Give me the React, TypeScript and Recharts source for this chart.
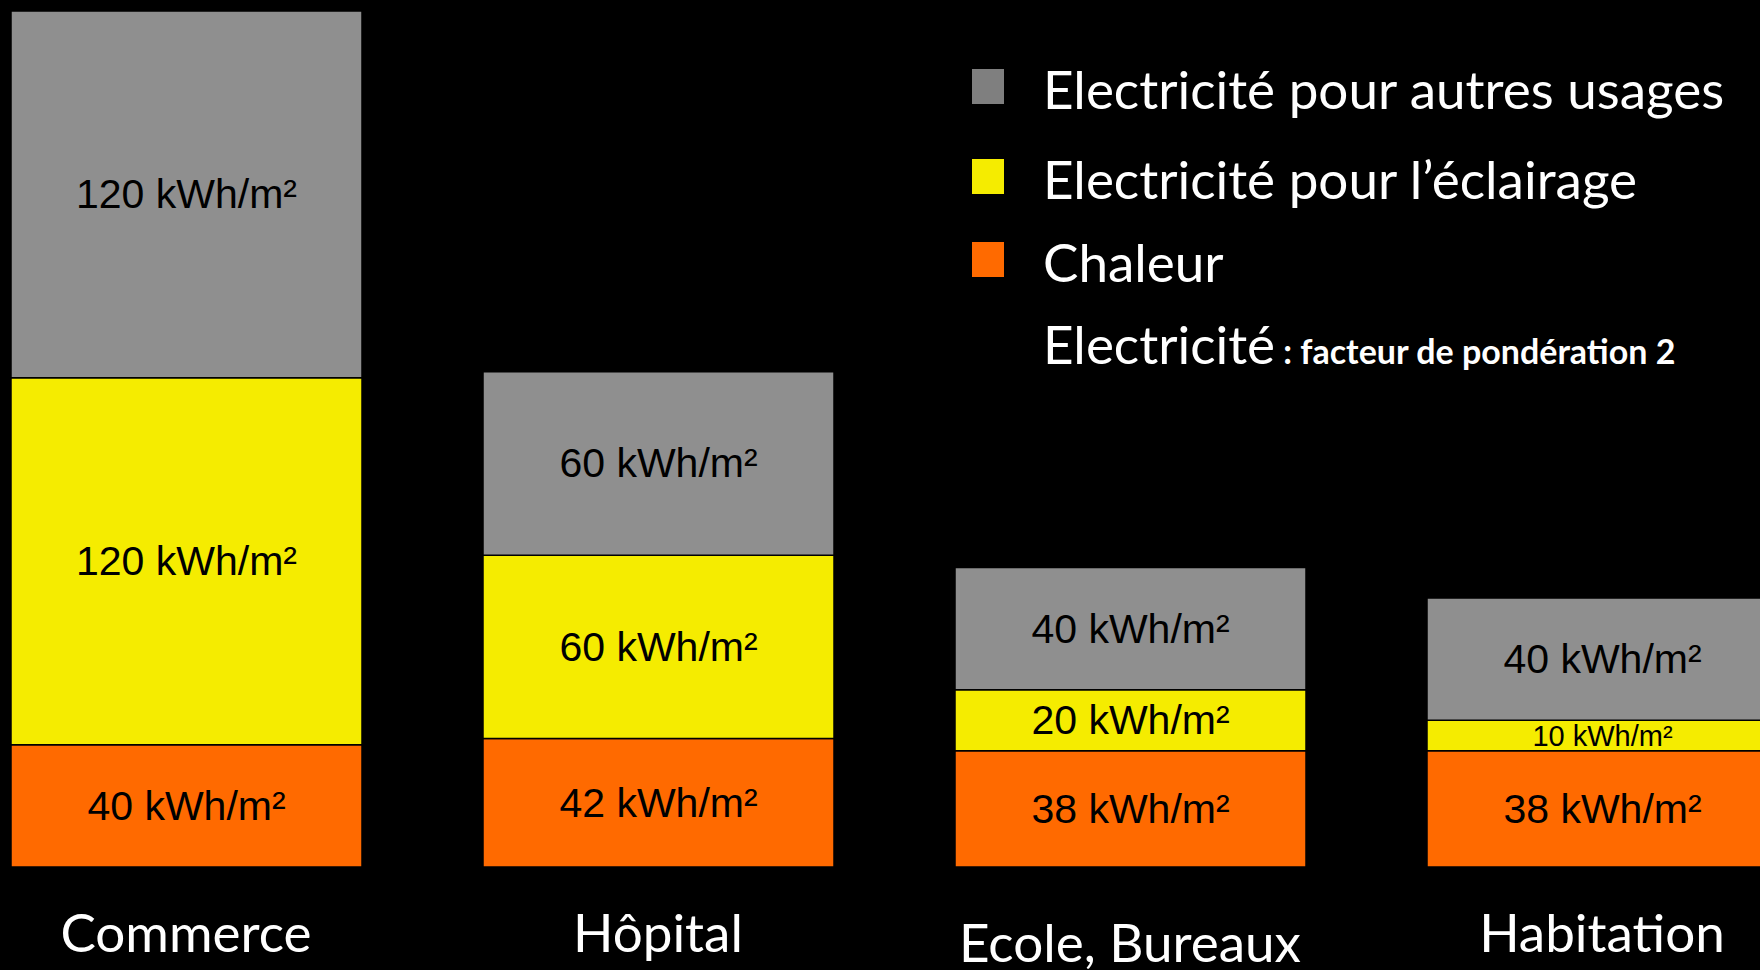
import React from "react";
import { Bar, BarChart, LabelList, Legend, XAxis, YAxis } from "recharts";

const categories = ["Commerce", "Hôpital", "Ecole, Bureaux", "Habitation"];
const chaleur = [40, 42, 38, 38];
const eclairage = [120, 60, 20, 10];
const autresUsages = [120, 60, 40, 40];

const seriesNames = {
  chaleur: "Chaleur",
  eclairage: "Electricité pour l’éclairage",
  autres: "Electricité pour autres usages",
};

const data = categories.map((name, i) => ({
  name,
  chaleur: chaleur[i],
  eclairage: eclairage[i],
  autres: autresUsages[i],
}));

const COLORS = { chaleur: "#ff6a00", eclairage: "#f5ec00", autres: "#8f8f8f" };
const SWATCH = { chaleur: "#ff6a00", eclairage: "#f5ec00", autres: "#7f7f7f" };
const LEGEND_ORDER = ["autres", "eclairage", "chaleur"];
const TEXT_FONT = "Lato, 'Open Sans', sans-serif";
const VALUE_FONT = "'Liberation Sans', Arial, sans-serif";

// baselines of the legend rows (page px)
const ROW_BASELINES = [109, 199, 282, 364];

function ValueLabel(props: any) {
  const { x, y, width, height, value } = props;
  const small = height < 45;
  return (
    <text
      x={x + width / 2}
      y={y + height / 2}
      textAnchor="middle"
      dominantBaseline="central"
      fontFamily={VALUE_FONT}
      fontSize={small ? 29 : 41}
      fill="#000"
    >
      {`${value} kWh/m²`}
    </text>
  );
}

function CategoryTick(props: any) {
  const { x, y, payload, index } = props;
  const dy = index === 2 ? 95 : 85;
  return (
    <text x={x} y={y + dy} textAnchor="middle" fill="#fff" fontFamily={TEXT_FONT} fontSize={53}>
      {payload.value}
    </text>
  );
}

function LegendContent({ payload }: any) {
  const items = LEGEND_ORDER.map((k) => (payload ?? []).find((p: any) => p.dataKey === k)).filter(Boolean);
  return (
    <div style={{ position: "relative", width: 780, height: 400, fontFamily: TEXT_FONT, color: "#fff" }}>
      {items.map((item: any, i: number) => (
        <div key={item.dataKey} style={{ position: "absolute", left: 0, top: ROW_BASELINES[i] - 52, whiteSpace: "nowrap" }}>
          <span
            style={{
              position: "absolute",
              left: 0,
              top: 12,
              width: 32,
              height: 35,
              background: SWATCH[item.dataKey as keyof typeof SWATCH],
            }}
          />
          <span style={{ position: "absolute", left: 71, top: 0, fontSize: 53, lineHeight: "63.6px" }}>{item.value}</span>
        </div>
      ))}
      <div style={{ position: "absolute", left: 71, top: ROW_BASELINES[3] - 52, whiteSpace: "nowrap", lineHeight: "63.6px" }}>
        <span style={{ fontSize: 53 }}>Electricité</span>
        <span style={{ fontSize: 34, fontWeight: 700 }}> : facteur de pondération 2</span>
      </div>
    </div>
  );
}

export default function App() {
  return (
    <div style={{ position: "fixed", left: 0, top: 0, width: 1760, height: 970, background: "#000", overflow: "hidden" }}>
      <div style={{ position: "absolute", left: -50, top: 0 }}>
        <BarChart width={1888} height={970} data={data} margin={{ top: 11, right: 0, bottom: 3, left: 0 }} barSize={351}>
          <XAxis dataKey="name" height={100} axisLine={false} tickLine={false} tickSize={0} tickMargin={0} tick={<CategoryTick />} interval={0} />
          <YAxis hide domain={[0, 280]} />
          <Legend
            layout="vertical"
            align="center"
            verticalAlign="middle"
            content={<LegendContent />}
            wrapperStyle={{ left: 1022, top: 0, width: 780 }}
          />
          <Bar dataKey="chaleur" name={seriesNames.chaleur} stackId="a" fill={COLORS.chaleur} stroke="#000" strokeWidth={1.5} isAnimationActive={false}>
            <LabelList dataKey="chaleur" content={<ValueLabel />} />
          </Bar>
          <Bar dataKey="eclairage" name={seriesNames.eclairage} stackId="a" fill={COLORS.eclairage} stroke="#000" strokeWidth={1.5} isAnimationActive={false}>
            <LabelList dataKey="eclairage" content={<ValueLabel />} />
          </Bar>
          <Bar dataKey="autres" name={seriesNames.autres} stackId="a" fill={COLORS.autres} stroke="#000" strokeWidth={1.5} isAnimationActive={false}>
            <LabelList dataKey="autres" content={<ValueLabel />} />
          </Bar>
        </BarChart>
      </div>
    </div>
  );
}
